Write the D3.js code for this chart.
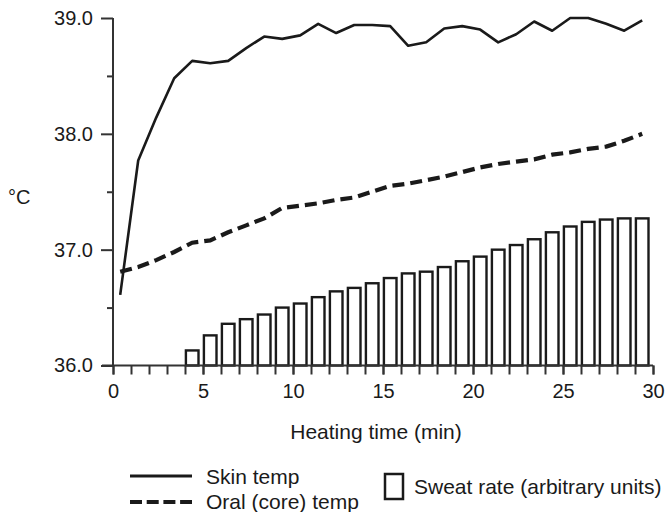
<!DOCTYPE html>
<html>
<head>
<meta charset="utf-8">
<script src="https://cdn.jsdelivr.net/npm/d3@7/dist/d3.min.js"></script>
<style>
  html, body { margin: 0; padding: 0; background: #fff; }
  svg { display: block; }
  text { font-family: "Liberation Sans", Arial, Helvetica, sans-serif; fill: #1a1a1a; }
</style>
</head>
<body>
<svg id="chart" width="666" height="512"></svg>
<script>
// ---- data ----
const minutes = d3.range(0, 30);               // one sample per minute of heating
const skinTemp = [36.61, 37.77, 38.14, 38.48, 38.63, 38.61, 38.63, 38.74, 38.84, 38.82,
                  38.85, 38.95, 38.87, 38.94, 38.94, 38.93, 38.76, 38.79, 38.91, 38.93,
                  38.90, 38.79, 38.86, 38.97, 38.89, 39.00, 39.00, 38.95, 38.89, 38.98];
const oralTemp = [36.81, 36.85, 36.91, 36.98, 37.06, 37.08, 37.15, 37.21, 37.27, 37.36,
                  37.38, 37.40, 37.43, 37.45, 37.50, 37.55, 37.57, 37.60, 37.63, 37.67,
                  37.71, 37.74, 37.76, 37.78, 37.82, 37.84, 37.87, 37.89, 37.94, 38.00];
const sweatMinutes = d3.range(4, 30);
const sweatRate = [36.13, 36.26, 36.36, 36.40, 36.44, 36.50, 36.535, 36.59, 36.64, 36.67,
                   36.71, 36.755, 36.795, 36.81, 36.85, 36.90, 36.94, 37.00, 37.04, 37.09,
                   37.15, 37.20, 37.24, 37.26, 37.27, 37.27];
const yTicks = [36, 37, 38, 39];
const yMinorTicks = [36.5, 37.5, 38.5];
const xTicks = [0, 5, 10, 15, 20, 25, 30];
const xMinorTicks = d3.range(0, 31);
const yLabel = "°C";
const xLabel = "Heating time (min)";
const legendLines = ["Skin temp", "Oral (core) temp"];
const legendBar = "Sweat rate (arbitrary units)";

// ---- layout ----
const svg = d3.select("#chart");
const ink = "#1a1a1a";
const x = d3.scaleLinear().domain([0, 30]).range([113, 653]);
const y = d3.scaleLinear().domain([36, 39]).range([365.5, 18]);
const FS = 20, FL = 21;

// bars
const barOff = 0.05, barW = 0.7;
svg.append("g").selectAll("rect")
  .data(sweatMinutes.map((m, i) => ({ m, v: sweatRate[i] })))
  .join("rect")
  .attr("x", d => x(d.m + barOff))
  .attr("y", d => y(d.v))
  .attr("width", x(barW) - x(0))
  .attr("height", d => y(36) - y(d.v))
  .attr("fill", "#fff")
  .attr("stroke", ink)
  .attr("stroke-width", 2.4);

// axes
const yAxis = svg.append("g").attr("transform", `translate(${x(0)},0)`)
  .call(d3.axisLeft(y).tickValues(yTicks).tickSize(12).tickFormat(d3.format(".1f")).tickPadding(8));
yAxis.append("g").call(d3.axisLeft(y).tickValues(yMinorTicks).tickSize(6).tickFormat(""))
  .select(".domain").remove();
yAxis.select(".domain").attr("d", `M0,${y(39)}V${y(36)}`);

const xAxis = svg.append("g").attr("transform", `translate(0,${y(36)})`)
  .call(d3.axisBottom(x).tickValues(xTicks).tickSize(9).tickFormat(d3.format("d")).tickPadding(9));
xAxis.append("g").call(d3.axisBottom(x).tickValues(xMinorTicks).tickSize(9).tickFormat(""))
  .select(".domain").remove();
xAxis.select(".domain").attr("d", `M${x(0) - 11},0H${x(30)}`);

svg.selectAll(".domain, .tick line").attr("stroke", "#333").attr("stroke-width", 2);
svg.selectAll(".tick text").attr("font-size", FS).attr("fill", ink)
  .style("font-family", "'Liberation Sans', Arial, sans-serif");

// lines
const lineGen = vals => d3.line().x((d, i) => x(minutes[i] + 0.4)).y(d => y(d))(vals);
svg.append("path").attr("d", lineGen(skinTemp))
  .attr("fill", "none").attr("stroke", ink).attr("stroke-width", 2.6).attr("stroke-linejoin", "round");
svg.append("path").attr("d", lineGen(oralTemp))
  .attr("fill", "none").attr("stroke", ink).attr("stroke-width", 4.2).attr("stroke-dasharray", "12,6");

// axis labels
svg.append("text").attr("x", 8).attr("y", 204).attr("font-size", FS).text(yLabel);
svg.append("text").attr("x", 376).attr("y", 439).attr("font-size", FL)
  .attr("text-anchor", "middle").text(xLabel);

// legend
svg.append("line").attr("x1", 130).attr("x2", 192).attr("y1", 476).attr("y2", 476)
  .attr("stroke", ink).attr("stroke-width", 3);
svg.append("line").attr("x1", 130).attr("x2", 192).attr("y1", 502).attr("y2", 502)
  .attr("stroke", ink).attr("stroke-width", 4).attr("stroke-dasharray", "12,4.7");
svg.append("text").attr("x", 206).attr("y", 484).attr("font-size", FL).text(legendLines[0]);
svg.append("text").attr("x", 206).attr("y", 509).attr("font-size", FL).text(legendLines[1]);
svg.append("rect").attr("x", 385).attr("y", 474).attr("width", 18).attr("height", 25)
  .attr("fill", "#fff").attr("stroke", ink).attr("stroke-width", 2.5);
svg.append("text").attr("x", 414).attr("y", 494).attr("font-size", FL).text(legendBar);
</script>
</body>
</html>
